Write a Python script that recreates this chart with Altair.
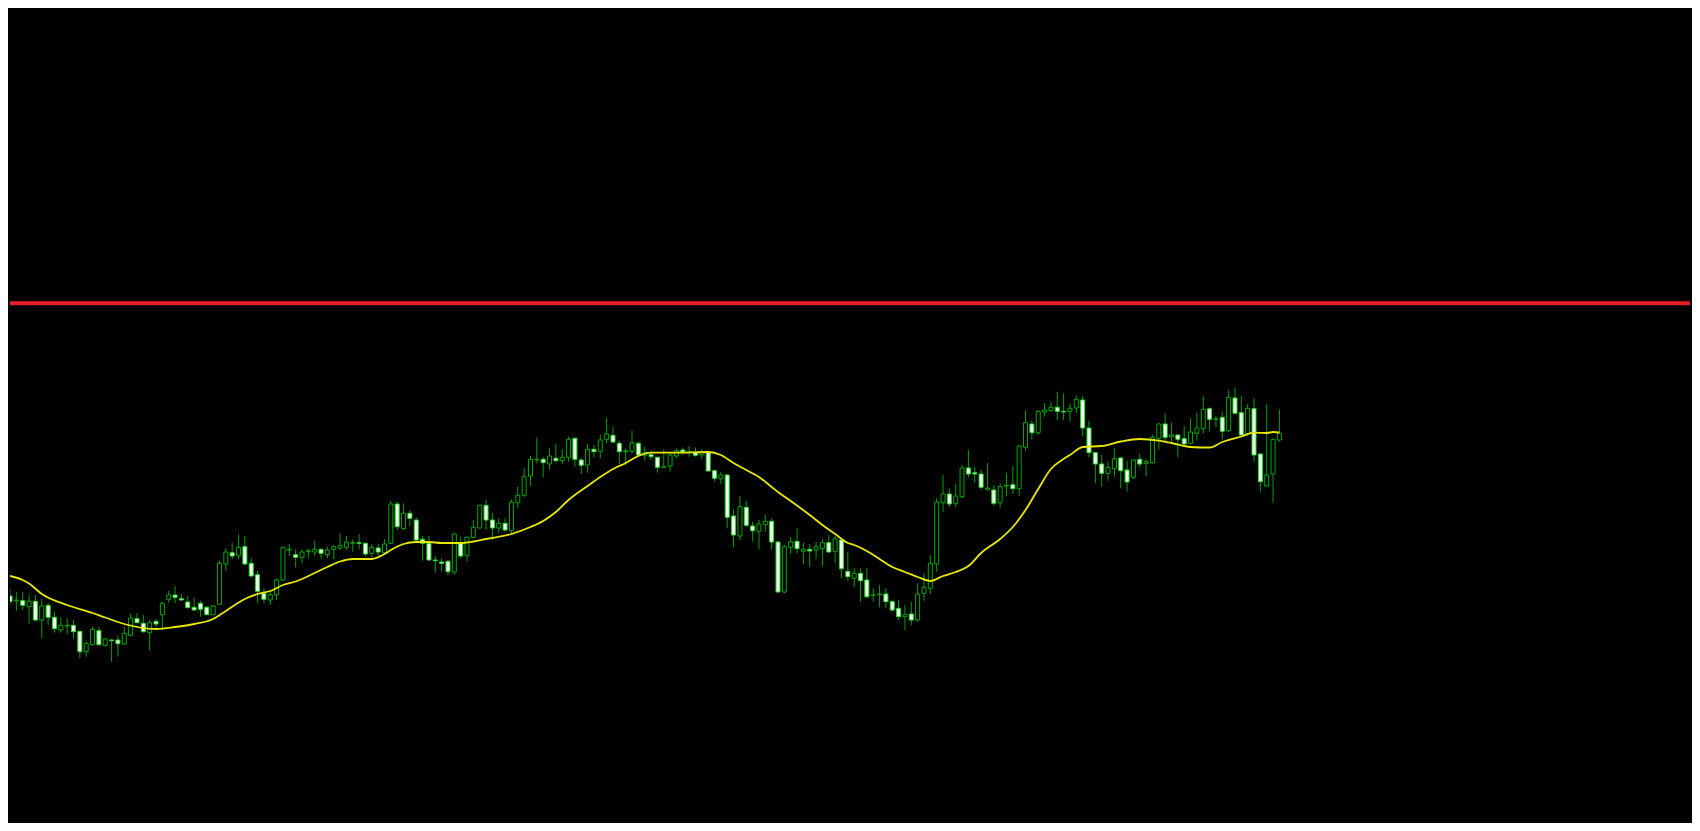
import altair as alt
import pandas as pd

# Candle values (price units), bars 1..201 left to right
opens = [
    104, 99.3, 99.3, 93.3, 98.7, 80, 94.7, 82.7, 70, 74,
    74.7, 68.7, 48.3, 55.3, 69.3, 54.7, 60, 60, 56, 64.7,
    81.3, 76.7, 67.3, 78.7, 85.3, 100.7, 105, 101.3, 98, 92.7,
    96.7, 92.7, 85.3, 95.7, 136, 147.3, 144.7, 153.3, 136.7, 125.3,
    106.7, 100, 105.3, 120, 150, 145.3, 142.7, 148.3, 148, 150.7,
    145.3, 150.7, 152, 152.7, 156.7, 157.3, 156.7, 146.7, 152, 147.3,
    156.7, 196, 171.3, 186.7, 180, 160.7, 156.7, 140, 138, 138.7,
    128, 156.7, 144.7, 162.7, 172, 194.7, 180, 172, 176.7, 169.3,
    197.3, 204.7, 224, 240, 240.7, 236, 241.7, 239.3, 242.7, 261.7,
    240, 235, 250.7, 248.7, 260.7, 264.7, 256.7, 248.3, 248.7, 256.7,
    244.7, 245.3, 242.7, 232.7, 234, 244, 250, 247.3, 247.3, 245.3,
    247.3, 229.3, 221.3, 225, 184, 164, 192.7, 174, 168.7, 175.3,
    178.7, 158, 108, 152.7, 158.7, 148.7, 150.7, 150, 151.3, 157.3,
    148.7, 160, 128.7, 121.7, 126.7, 120, 104.7, 105.3, 106, 98.3,
    91.7, 83.3, 86, 80, 106.7, 111.7, 136, 197.3, 206, 196.7,
    203.3, 232, 227.3, 226, 210.7, 210, 197.3, 214, 215.3, 211.3,
    252.7, 276, 267.3, 288, 289.3, 292.7, 288.7, 288.7, 292, 300,
    272, 247.3, 236, 226.7, 231.3, 242, 230, 222.7, 240.7, 236.7,
    237.3, 261.7, 276, 263.3, 265, 261.3, 256.7, 266.7, 271.3, 291.3,
    280.7, 282.7, 269.3, 302, 287.3, 266, 291.3, 246, 214, 226,
    260,
]
highs = [
    111.7, 108.3, 108.3, 105, 105, 100.7, 96.7, 88.3, 82.7, 81.7,
    80, 69.3, 58.3, 73.3, 72.7, 61.7, 60.7, 64.3, 73.3, 86.7,
    86.7, 85, 80, 80.7, 98.3, 109, 114, 106, 104, 102.7,
    99.3, 94, 95, 139.3, 151.7, 157.3, 165, 164, 141.7, 129.3,
    111.7, 109.3, 121.7, 153.3, 156, 150.7, 150.7, 150.7, 159.3, 151.7,
    153.3, 155, 166.7, 164, 160.7, 166, 157.3, 156, 156, 160.7,
    199.3, 198.3, 196.7, 190, 182.7, 164, 164, 144, 141.7, 140,
    167.3, 163.3, 163.5, 180, 195, 200, 187.3, 181.7, 181.7, 200.7,
    213.3, 231.7, 244, 262.7, 242.7, 251.7, 256, 250.7, 263.3, 262.3,
    241.7, 256, 255, 265, 282, 273.3, 259.3, 251.7, 269.3, 258.3,
    253.3, 249.3, 243.3, 250.7, 247.3, 251.7, 252.7, 254, 252.7, 250.7,
    249.3, 230, 228.3, 225.7, 190.7, 204, 199.3, 178.3, 180, 185,
    181.7, 159.3, 155, 162.7, 171.7, 157.3, 156, 158.3, 160.7, 165,
    164, 161.7, 148.3, 131.7, 131.7, 131.7, 111.7, 115, 111.7, 100,
    100, 95, 98.3, 116.7, 126.7, 145, 201.7, 225, 211.7, 216,
    235, 250, 233.3, 230, 236.7, 215, 216.7, 226.7, 234, 255,
    289.3, 279.3, 290, 296.7, 298.3, 308.3, 306.7, 296.5, 304.5, 304,
    279.3, 248, 245, 238.3, 251.7, 242.7, 239.3, 240.7, 246, 240.7,
    265, 277.3, 286.7, 277.3, 265.7, 274, 281.7, 287.3, 304, 292.7,
    284, 288.3, 310, 312.7, 304, 296, 301.7, 246.7, 296, 261.7,
    290.7,
]
lows = [
    95, 89.3, 90, 76.7, 78.3, 61.7, 75, 67.3, 67.3, 66,
    61.7, 41.7, 43.3, 54.5, 54.3, 53.3, 38.3, 43.3, 55.5, 64,
    76.7, 67.3, 49.3, 72.7, 70, 97.3, 96.7, 99.3, 91.7, 89.3,
    83.3, 85, 85, 95, 129.3, 140.7, 140.7, 135.5, 123.3, 96.7,
    96.7, 95, 100, 119.3, 144, 132.7, 136.7, 141.7, 144, 141.7,
    141.7, 140.7, 150, 150, 148.3, 150.7, 144, 142.7, 144, 146.8,
    156, 170, 170, 174, 159.3, 139.3, 139.3, 127.3, 128.3, 125,
    125, 141.7, 138.3, 161.7, 171.7, 170, 160, 167.3, 168.3, 166,
    191.7, 203, 214, 236.7, 222.7, 230, 237.3, 236, 238.3, 233.3,
    226, 227.3, 242.7, 241.7, 256.7, 256.7, 236, 235, 246.7, 244,
    239.3, 240, 227.3, 232, 228.3, 241.7, 245, 243.3, 243.3, 240.7,
    228.3, 218.3, 216, 171.7, 152.7, 160, 173.3, 158.3, 150.7, 168.3,
    150.7, 107.3, 106.7, 146, 146.7, 136, 133.3, 141.7, 134, 147.3,
    137.3, 121.7, 119.3, 112.7, 98.3, 101.7, 98.3, 92.7, 91.7, 88.3,
    80, 70, 75, 78.3, 99.3, 106, 128.3, 188.3, 192.7, 192.7,
    201.7, 222.7, 217.3, 210.7, 209.3, 194, 191.7, 204, 206, 204,
    249.3, 260.7, 265, 283.3, 288.5, 280, 280, 278.3, 287.3, 264,
    242.7, 216.7, 213.3, 219.3, 223.3, 211.7, 208.3, 220.7, 232.7, 224,
    236.5, 250.7, 258.3, 256, 242.7, 255.5, 255.5, 259.3, 266.7, 268.3,
    272.7, 260.7, 268.3, 286, 263.3, 264, 238.3, 208.3, 213.3, 197.3,
    258.3,
]
closes = [
    98.3, 100, 94.7, 98.7, 80, 94, 82.7, 71.3, 74.7, 74.7,
    68.3, 48.3, 56.7, 70.7, 55.3, 61, 59.3, 56.3, 66.7, 82,
    77.3, 68.3, 77.3, 76, 96.7, 105, 102.7, 100, 92.3, 90,
    90.7, 85.3, 94, 136.7, 148, 144, 152.7, 136, 124, 108.7,
    100.7, 105.3, 120, 152.7, 150.7, 142.7, 148, 149.3, 150.7, 146.7,
    150, 153.3, 154.7, 158, 157.3, 156.7, 146, 152.7, 148, 156,
    196, 173.3, 186.7, 181.7, 160, 156.7, 140, 139.3, 136.7, 128.3,
    166, 144, 162.7, 172.7, 194.7, 180, 172, 176.7, 170, 198,
    204.7, 223.3, 240.7, 240.7, 237.3, 244, 239.3, 242.7, 260.7, 240.7,
    234.7, 250.7, 248.3, 260, 266, 258, 248.3, 249.3, 257.3, 245,
    247.3, 243.3, 232.7, 233.3, 245, 249.3, 248, 248.7, 244.7, 247.3,
    229, 221.7, 225, 182.7, 165, 193.3, 174.7, 169.3, 176, 178.7,
    158, 108, 153.3, 158.3, 151.3, 150.7, 149, 153.3, 157.3, 148,
    161.3, 131.3, 123.3, 126.7, 119.3, 103.3, 105.3, 106, 98.3, 90,
    83.3, 85.3, 80, 106, 112.7, 136.7, 198, 206, 196, 204,
    232, 226, 226, 212.7, 212, 196.7, 213.3, 214.7, 211.3, 254,
    277.3, 267.3, 288.7, 290, 292.7, 288.7, 288, 291.7, 300.7, 272,
    247.3, 236, 226.7, 232.7, 241.3, 229.3, 218, 240, 236, 238.3,
    262.7, 276, 262.7, 265, 260.7, 256, 268, 272, 290.7, 280.7,
    281.3, 268.7, 302.7, 286.7, 265, 291.7, 245, 218.3, 225, 260.7,
    266.7,
]

# Moving average, read at selected bars
ma_bars = [1, 3, 4, 6, 10, 14, 16, 19, 24, 27, 30, 33, 35, 38, 40, 42, 44, 46,
           49, 51, 53, 55, 58, 60, 61, 63, 65, 67, 69, 72, 74, 76, 80, 83, 85,
           87, 89, 92, 94, 96, 98, 100, 102, 106, 111, 113, 115, 117, 119, 121,
           122, 124, 127, 129, 131, 133, 134, 136, 138, 140, 142, 144, 146, 148,
           150, 152, 154, 157, 159, 161, 163, 165, 167, 168, 170, 173, 176, 179,
           182, 184, 187, 190, 192, 195, 197, 199, 200, 201]
ma_vals = [124, 120, 116.5, 106, 95, 87, 82.5, 76, 71, 73, 76, 81, 89, 101, 106,
           109, 115, 118.5, 127, 133, 138.5, 141, 141, 146, 150, 156, 158, 158,
           157, 157, 158.5, 161, 166, 173, 179, 188, 200, 214, 223, 231, 237,
           244, 247.3, 247.3, 248, 245, 237, 230, 223, 213, 208, 199, 185, 175,
           166, 157, 155, 149, 141, 133, 128, 123, 119, 124, 128, 134, 147, 161,
           173, 190, 211, 231, 241, 245, 253, 254, 258.5, 261, 259.3, 257, 253,
           252.5, 258, 263.5, 267.3, 267, 268, 267.5]

# Horizontal level line
level = [396.7]

n = len(opens)
df = pd.DataFrame({
    "bar": list(range(1, n + 1)),
    "open": opens,
    "high": highs,
    "low": lows,
    "close": closes,
})
df["dir"] = ["bull" if c >= o else "bear" for o, c in zip(opens, closes)]
ma_df = pd.DataFrame({"bar": ma_bars, "ma": ma_vals})
lvl_df = pd.DataFrame({"level": level})

xs = alt.Scale(domain=[1.78125, 264.90625], nice=False, zero=False)
ys = alt.Scale(domain=[-123, 692], nice=False, zero=False)

red = alt.Chart(lvl_df).mark_rule(color="#e61e26", strokeWidth=4).encode(
    y=alt.Y("level:Q", scale=ys, axis=None)
)

wicks = alt.Chart(df).mark_rule(color="#00a000", strokeWidth=1, clip=True).encode(
    x=alt.X("bar:Q", scale=xs, axis=None),
    y=alt.Y("low:Q", scale=ys, axis=None),
    y2="high:Q",
)

bodies = alt.Chart(df).mark_bar(size=4, strokeWidth=1, clip=True).encode(
    x=alt.X("bar:Q", scale=xs, axis=None),
    y=alt.Y("open:Q", scale=ys, axis=None),
    y2="close:Q",
    fill=alt.Fill("dir:N", scale=alt.Scale(domain=["bull", "bear"], range=["#000000", "#f4fff4"]), legend=None),
    stroke=alt.Stroke("dir:N", scale=alt.Scale(domain=["bull", "bear"], range=["#00a800", "#22e022"]), legend=None),
)

ma_line = alt.Chart(ma_df).mark_line(
    color="#e8e800", strokeWidth=1.8, clip=True, interpolate="monotone"
).encode(
    x=alt.X("bar:Q", scale=xs, axis=None),
    y=alt.Y("ma:Q", scale=ys, axis=None),
)

chart = alt.layer(red, wicks, bodies, ma_line).properties(
    width=1684,
    height=815,
    autosize=alt.AutoSizeParams(type="fit", contains="padding"),
    padding=0,
    background="#000000",
).configure_view(strokeWidth=0)

chart.save("out.html", embed_options={"renderer": "svg", "actions": False})
